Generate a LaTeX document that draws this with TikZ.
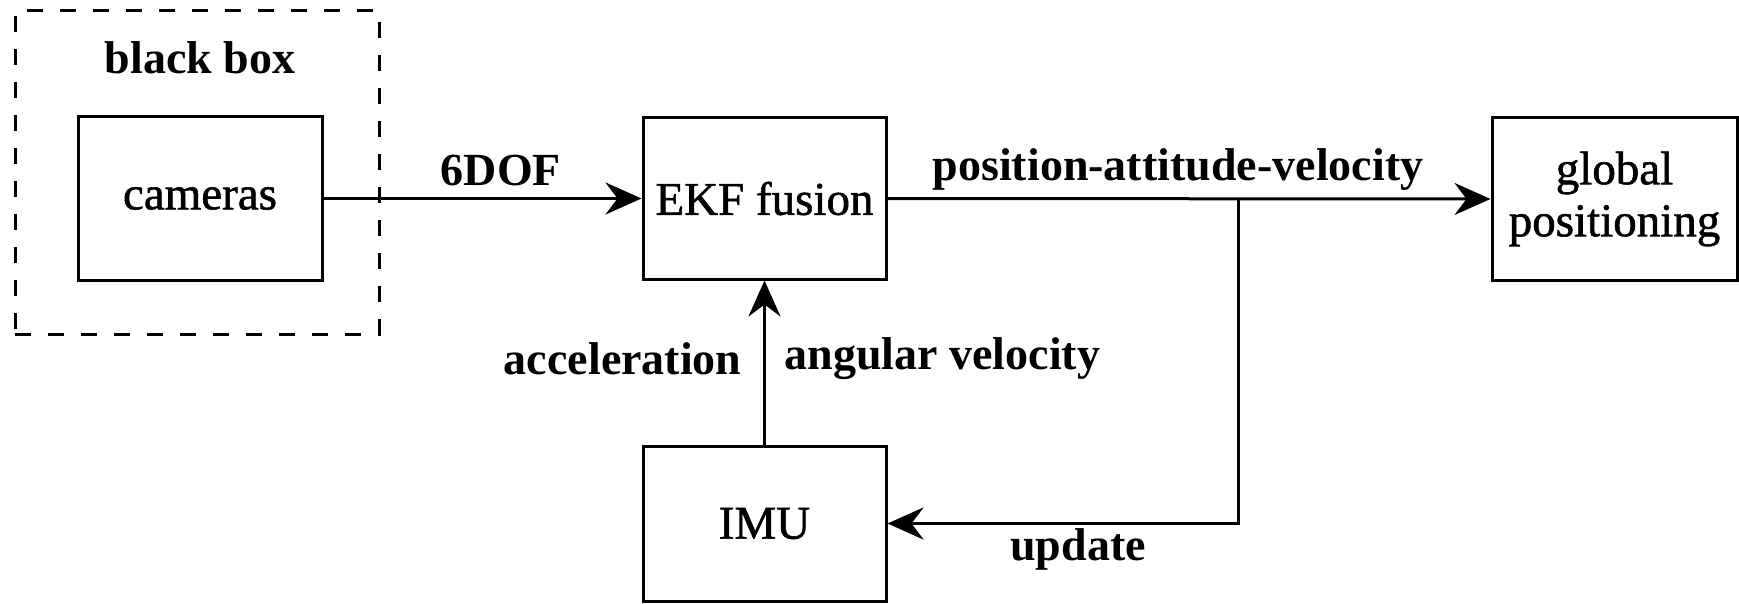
\documentclass[tikz,border=0pt]{standalone}
\usepackage{fontspec}
\setmainfont{Liberation Serif}
\newfontfamily\boxfont{Liberation Serif}[FakeBold=1.2]
\usetikzlibrary{arrows.meta}

\begin{document}
\begin{tikzpicture}[x=1pt, y=-1pt,
  line width=3pt,
  blk/.style={draw, line width=3pt, inner sep=0pt, align=center,
    font=\boxfont\bfseries\mdseries\fontsize{47}{52}\selectfont},
  lbl/.style={font=\fontsize{46}{52}\selectfont\bfseries, inner sep=0pt},
  arr/.style={-{Stealth[length=36pt, width=32pt, inset=12pt]}, line width=3pt},
  dashbox/.style={draw, line width=3pt, dash pattern=on 16pt off 17pt}]
\useasboundingbox (0,0) rectangle (1739,604);

% blocks
\node[dashbox, minimum width=364pt, minimum height=323pt] (bb) at (197,172.5) {};
\node[lbl] (bbl) at (200,58) {black box};
\node[blk, minimum width=244pt, minimum height=163pt] (cam) at (200,198.5) {cameras};
\node[blk, minimum width=243pt, minimum height=161pt] (ekf) at (764.5,198.5) {EKF fusion};
\node[blk, minimum width=245pt, minimum height=162pt] (gp) at (1614.5,199) {global\\positioning};
\node[blk, minimum width=243pt, minimum height=155pt] (imu) at (764.5,523.5) {IMU};

% branch point on the state output line
\coordinate (br) at (1238,199);

% connectors
\draw[arr] (cam.east) -- (ekf.west);
\draw[arr] (ekf.east) -- (gp.west);
\draw[arr] (imu.north) -- (ekf.south);
\draw[arr] (br) |- (imu.east);

% labels
\node[lbl] (l6) at (501,170) {6DOF};
\node[lbl] (lpav) at (1178,170) {position-attitude-velocity};
\node[lbl, anchor=east] (lacc) at (743,359) {acceleration};
\node[lbl, anchor=west] (lang) at (783,359) {angular velocity};
\node[lbl] (lup) at (1078,549) {update};
\end{tikzpicture}
\end{document}
